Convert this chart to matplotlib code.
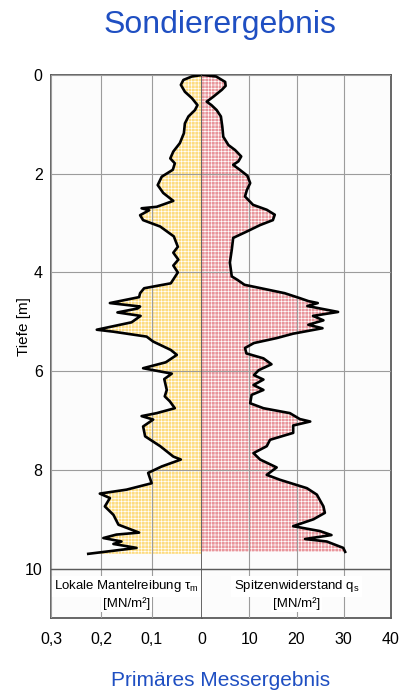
import numpy as np
import matplotlib
matplotlib.use("Agg")
import matplotlib.pyplot as plt

plt.rcParams['font.family'] = ['Liberation Sans', 'DejaVu Sans']
plt.rcParams['mathtext.fontset'] = 'custom'
plt.rcParams['mathtext.rm'] = 'Liberation Sans'
plt.rcParams['hatch.linewidth'] = 0.45

# Lokale Mantelreibung tau_m [MN/m²] over depth [m]
tau_depth = [0.00, 0.03, 0.10, 0.20, 0.34, 0.47, 0.61, 0.71, 0.84, 0.98,
             1.18, 1.38, 1.55, 1.69, 1.79, 1.92, 2.06, 2.23, 2.39, 2.55,
             2.67, 2.70, 2.74, 2.84, 2.94, 3.07, 3.27, 3.48, 3.60, 3.74,
             3.86, 4.00, 4.22, 4.32, 4.42, 4.50, 4.62, 4.69, 4.73, 4.81,
             4.88, 5.01, 5.16, 5.20, 5.30, 5.40, 5.57, 5.67, 5.82, 5.94,
             6.05, 6.16, 6.38, 6.51, 6.61, 6.75, 6.85, 6.91, 6.98, 7.12,
             7.32, 7.52, 7.73, 7.79, 7.93, 8.06, 8.27, 8.40, 8.48, 8.57,
             8.74, 8.91, 9.11, 9.27, 9.31, 9.38, 9.45, 9.50, 9.58, 9.70]
tau_m = [0.000, 0.020, 0.037, 0.042, 0.034, 0.020, 0.009, 0.014, 0.027, 0.034,
         0.036, 0.044, 0.057, 0.063, 0.054, 0.058, 0.080, 0.088, 0.077, 0.057,
         0.090, 0.120, 0.105, 0.123, 0.117, 0.083, 0.056, 0.048, 0.057, 0.047,
         0.057, 0.048, 0.062, 0.115, 0.123, 0.125, 0.183, 0.123, 0.128, 0.168,
         0.122, 0.140, 0.209, 0.176, 0.110, 0.097, 0.062, 0.050, 0.072, 0.117,
         0.060, 0.075, 0.070, 0.074, 0.064, 0.054, 0.090, 0.120, 0.097, 0.117,
         0.113, 0.083, 0.057, 0.042, 0.080, 0.107, 0.100, 0.150, 0.203, 0.183,
         0.193, 0.176, 0.166, 0.125, 0.170, 0.196, 0.160, 0.176, 0.130, 0.226]

# Spitzenwiderstand q_s [MN/m²] over depth [m]
qs_depth = [0.00, 0.03, 0.14, 0.22, 0.30, 0.44, 0.54, 0.61, 0.71, 0.84,
            1.05, 1.25, 1.42, 1.52, 1.65, 1.75, 1.82, 1.92, 2.04, 2.19,
            2.33, 2.46, 2.63, 2.73, 2.83, 2.94, 3.04, 3.17, 3.30, 3.54,
            3.80, 4.08, 4.15, 4.25, 4.33, 4.42, 4.52, 4.58, 4.62, 4.68,
            4.80, 4.88, 4.97, 5.06, 5.13, 5.24, 5.33, 5.43, 5.53, 5.64,
            5.74, 5.86, 5.98, 6.08, 6.17, 6.28, 6.38, 6.48, 6.65, 6.75,
            6.85, 6.97, 7.02, 7.10, 7.25, 7.39, 7.52, 7.66, 7.79, 7.95,
            8.10, 8.20, 8.37, 8.50, 8.74, 8.87, 9.00, 9.14, 9.24, 9.32,
            9.40, 9.45, 9.58, 9.66]
q_s = [0.3, 3.0, 4.9, 5.0, 4.2, 2.4, 1.0, 2.0, 3.1, 4.0,
       4.3, 4.5, 5.6, 7.0, 8.3, 7.7, 6.6, 8.0, 9.6, 10.2,
       9.5, 9.1, 10.8, 13.7, 15.4, 15.0, 12.3, 9.5, 6.6, 6.3,
       5.9, 6.3, 7.5, 9.0, 13.0, 17.5, 20.7, 22.5, 24.5, 22.3,
       28.8, 23.5, 25.7, 22.5, 25.5, 19.3, 15.8, 11.0, 9.1, 9.4,
       13.0, 14.7, 12.0, 11.0, 13.0, 10.9, 13.0, 10.5, 10.2, 13.0,
       18.6, 20.7, 22.9, 19.3, 19.3, 14.4, 13.7, 10.9, 12.3, 15.8,
       13.7, 16.5, 22.2, 24.3, 25.7, 26.0, 23.6, 19.3, 25.0, 27.4,
       21.8, 26.4, 29.9, 30.3]

depth_ticks = [0, 2, 4, 6, 8, 10]
tau_ticks = [0.3, 0.2, 0.1, 0.0]
tau_ticklabels = ['0,3', '0,2', '0,1', '0']
qs_ticks = [10, 20, 30, 40]
qs_ticklabels = ['10', '20', '30', '40']

frame_col = '#5a5a5a'
grid_col = '#9c9c9c'

fig = plt.figure(figsize=(4.01, 6.94), dpi=100)
W, H = 401, 694
x0, xc, x1 = 51, 202, 391
ytop, ybot = 75, 618
axl = fig.add_axes([x0 / W, 1 - ybot / H, (xc - x0) / W, (ybot - ytop) / H])
axr = fig.add_axes([xc / W, 1 - ybot / H, (x1 - xc) / W, (ybot - ytop) / H], sharey=axl)

for ax in (axl, axr):
    ax.set_facecolor('#fcfcfc')
    ax.set_ylim(11, 0)
    ax.set_axisbelow(False)
    ax.grid(True, color=grid_col, lw=0.8)
    ax.tick_params(length=0)
    for s in ax.spines.values():
        s.set_color(frame_col)
        s.set_linewidth(1.3)

# left half: skin friction, axis runs 0.3 -> 0
axl.set_xlim(0.3, 0.0)
axl.fill_betweenx(tau_depth, 0, tau_m, facecolor='#fddc80', edgecolor='white',
                  hatch='+++++', lw=0, zorder=1)
axl.plot(tau_m, tau_depth, color='black', lw=1.9, solid_joinstyle='round', zorder=3)
axl.set_xticks(tau_ticks)
axl.set_xticklabels(tau_ticklabels)
axl.set_yticks(depth_ticks)
axl.set_yticklabels([str(d) for d in depth_ticks])
axl.tick_params(axis='x', labelsize=11.5, pad=10)
axl.tick_params(axis='y', labelsize=11.5, pad=6)
axl.spines['right'].set_zorder(2.6)

# right half: cone resistance
axr.set_xlim(0, 40)
axr.fill_betweenx(qs_depth, 0, q_s, facecolor='#e8959b', edgecolor='white',
                  hatch='+++++', lw=0, zorder=1)
axr.plot(q_s, qs_depth, color='black', lw=1.9, solid_joinstyle='round', zorder=3)
axr.set_xticks(qs_ticks)
axr.set_xticklabels(qs_ticklabels)
axr.tick_params(axis='x', labelsize=11.5, pad=10)
axr.tick_params(axis='y', labelleft=False)
axr.spines['left'].set_visible(False)
axr.axhline(10, color=frame_col, lw=1.0, zorder=2.6)
axl.axhline(10, color=frame_col, lw=1.0, zorder=2.6)

box = dict(facecolor='white', edgecolor='none', pad=1.5)
axl.text(0.15, 10.36, r'Lokale Mantelreibung τ$_\mathrm{m}$', ha='center', va='center',
         fontsize=9.5, bbox=box, zorder=4)
axl.text(0.15, 10.7, '[MN/m²]', ha='center', va='center', fontsize=9.5, bbox=box, zorder=4)
axr.text(20, 10.36, r'Spitzenwiderstand q$_\mathrm{s}$', ha='center', va='center',
         fontsize=9.5, bbox=box, zorder=4)
axr.text(20, 10.7, '[MN/m²]', ha='center', va='center', fontsize=9.5, bbox=box, zorder=4)

fig.text(24 / W, 1 - 327 / H, 'Tiefe [m]', rotation=90, ha='center', va='center', fontsize=11)
fig.text(220 / W, 1 - 33 / H, 'Sondierergebnis', ha='center', va='baseline',
         fontsize=23, color='#1f4fc2')
fig.text(221 / W, 1 - 686 / H, 'Primäres Messergebnis', ha='center', va='baseline',
         fontsize=15, color='#1f4fc2')

fig.savefig('out.png', dpi=100, facecolor='white')
